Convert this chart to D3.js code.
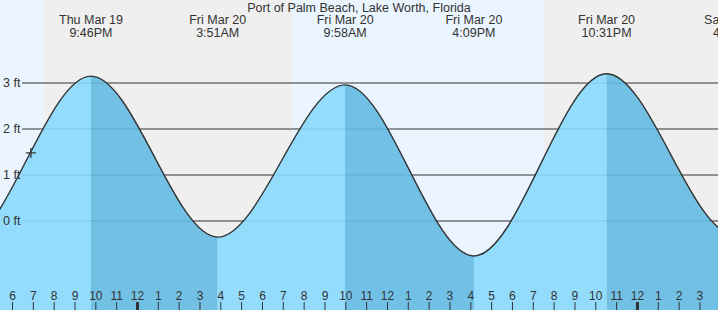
<!DOCTYPE html>
<html>
<head>
<meta charset="utf-8">
<script src="https://cdn.jsdelivr.net/npm/d3@7"></script>
<style>
  html, body { margin: 0; padding: 0; background: #fff; }
  svg { display: block; font-family: "Liberation Sans", Arial, sans-serif; }
</style>
</head>
<body>
<div id="chart"></div>
<script>
// tide extremes (local time) and heights in ft
const extremeTimes = [
  '2026-03-19T09:20', '2026-03-19T15:35', '2026-03-19T21:46', '2026-03-20T03:51',
  '2026-03-20T09:58', '2026-03-20T16:09', '2026-03-20T22:31', '2026-03-21T04:40',
  '2026-03-21T10:50',
];
const extremeHeights = [2.9, -0.5, 3.15, -0.35, 2.96, -0.76, 3.2, -0.3, 3.0];

// night spans (sunset -> sunrise)
const nightStarts = ['2026-03-19T19:31', '2026-03-20T19:31'];
const nightEnds = ['2026-03-20T07:25', '2026-03-21T07:25'];

const yTicks = [0, 1, 2, 3];
const nowTime = '2026-03-19T18:53';
const nowHeight = 1.48;
const title = 'Port of Palm Beach, Lake Worth, Florida';

const width = 718;
const height = 310;
const parse = d3.timeParse('%Y-%m-%dT%H:%M');

const tides = extremeTimes.map((t, i) => ({ date: parse(t), value: extremeHeights[i] }));

const x = d3.scaleTime()
  .domain([parse('2026-03-19T17:24'), parse('2026-03-21T03:52')])
  .range([0, width]);

const y = d3.scaleLinear()
  .domain([0, 3])
  .range([221, 83]);

const svg = d3.select('#chart')
  .append('svg')
  .attr('width', width)
  .attr('height', height);

// day / night background
svg.append('rect')
  .attr('width', width)
  .attr('height', height)
  .attr('fill', '#eaf5ff');

svg.append('g')
  .selectAll('rect')
  .data(nightStarts.map((s, i) => [parse(s), parse(nightEnds[i])]))
  .join('rect')
  .attr('x', (d) => x(d[0]))
  .attr('width', (d) => x(d[1]) - x(d[0]))
  .attr('y', 0)
  .attr('height', height)
  .attr('fill', '#efefef');

// grid lines (under the water)
svg.append('g')
  .selectAll('line')
  .data(yTicks)
  .join('line')
  .attr('x1', 22)
  .attr('x2', width)
  .attr('y1', (d) => y(d))
  .attr('y2', (d) => y(d))
  .attr('stroke', '#333')
  .attr('stroke-width', 1);

// water, light while rising, dark while falling
const area = d3.area()
  .x((d) => x(d.date))
  .y0(height)
  .y1((d) => y(d.value))
  .curve(d3.curveMonotoneX);

const line = d3.line()
  .x((d) => x(d.date))
  .y((d) => y(d.value))
  .curve(d3.curveMonotoneX);

svg.append('defs')
  .selectAll('clipPath')
  .data(d3.pairs(tides))
  .join('clipPath')
  .attr('id', (d, i) => `seg-${i}`)
  .append('rect')
  .attr('x', (d) => x(d[0].date))
  .attr('width', (d) => x(d[1].date) - x(d[0].date))
  .attr('y', 0)
  .attr('height', height);

svg.append('g')
  .selectAll('path')
  .data(d3.pairs(tides))
  .join('path')
  .attr('clip-path', (d, i) => `url(#seg-${i})`)
  .attr('d', area(tides))
  .attr('fill', (d) => (d[1].value > d[0].value ? '#8ad9fd' : '#64bbe3'))
  .attr('fill-opacity', 0.9);

svg.append('path')
  .datum(tides)
  .attr('d', line)
  .attr('fill', 'none')
  .attr('stroke', '#333')
  .attr('stroke-width', 1.4);

// current-time marker
const nx = x(parse(nowTime));
const ny = y(nowHeight);
svg.append('path')
  .attr('d', `M${nx - 5},${ny}H${nx + 5}M${nx},${ny - 5}V${ny + 5}`)
  .attr('stroke', '#333')
  .attr('stroke-width', 1.3);

// y labels
svg.append('g')
  .selectAll('text')
  .data(yTicks)
  .join('text')
  .attr('x', 3)
  .attr('y', (d) => y(d))
  .attr('dy', '0.35em')
  .attr('font-size', 12.5)
  .attr('fill', '#333')
  .text((d) => `${d} ft`);

// title and extreme labels
svg.append('text')
  .attr('x', width / 2)
  .attr('y', 12)
  .attr('text-anchor', 'middle')
  .attr('font-size', 12.5)
  .attr('fill', '#333')
  .text(title);

const fmtDay = d3.timeFormat('%a %b %-d');
const fmtTime = d3.timeFormat('%-I:%M%p');

const gLab = svg.append('g')
  .selectAll('g')
  .data(tides.filter((d) => d.date > x.domain()[0] && x(d.date) < width + 40))
  .join('g')
  .attr('transform', (d) => `translate(${x(d.date)},0)`)
  .attr('text-anchor', 'middle')
  .attr('font-size', 12.5)
  .attr('fill', '#333');

gLab.append('text').attr('y', 24).text((d) => fmtDay(d.date));
gLab.append('text').attr('y', 37).text((d) => fmtTime(d.date));

// hour axis
const hours = d3.timeHour.range(x.domain()[0], x.domain()[1]);
const gHour = svg.append('g')
  .selectAll('g')
  .data(hours)
  .join('g')
  .attr('transform', (d) => `translate(${x(d)},0)`);

gHour.append('line')
  .attr('y1', 302)
  .attr('y2', height)
  .attr('stroke', '#333')
  .attr('stroke-width', (d) => (d.getHours() === 0 ? 3 : 1));

gHour.append('text')
  .attr('y', 300)
  .attr('text-anchor', 'middle')
  .attr('font-size', 12)
  .attr('fill', '#333')
  .text(d3.timeFormat('%-I'));
</script>
</body>
</html>
